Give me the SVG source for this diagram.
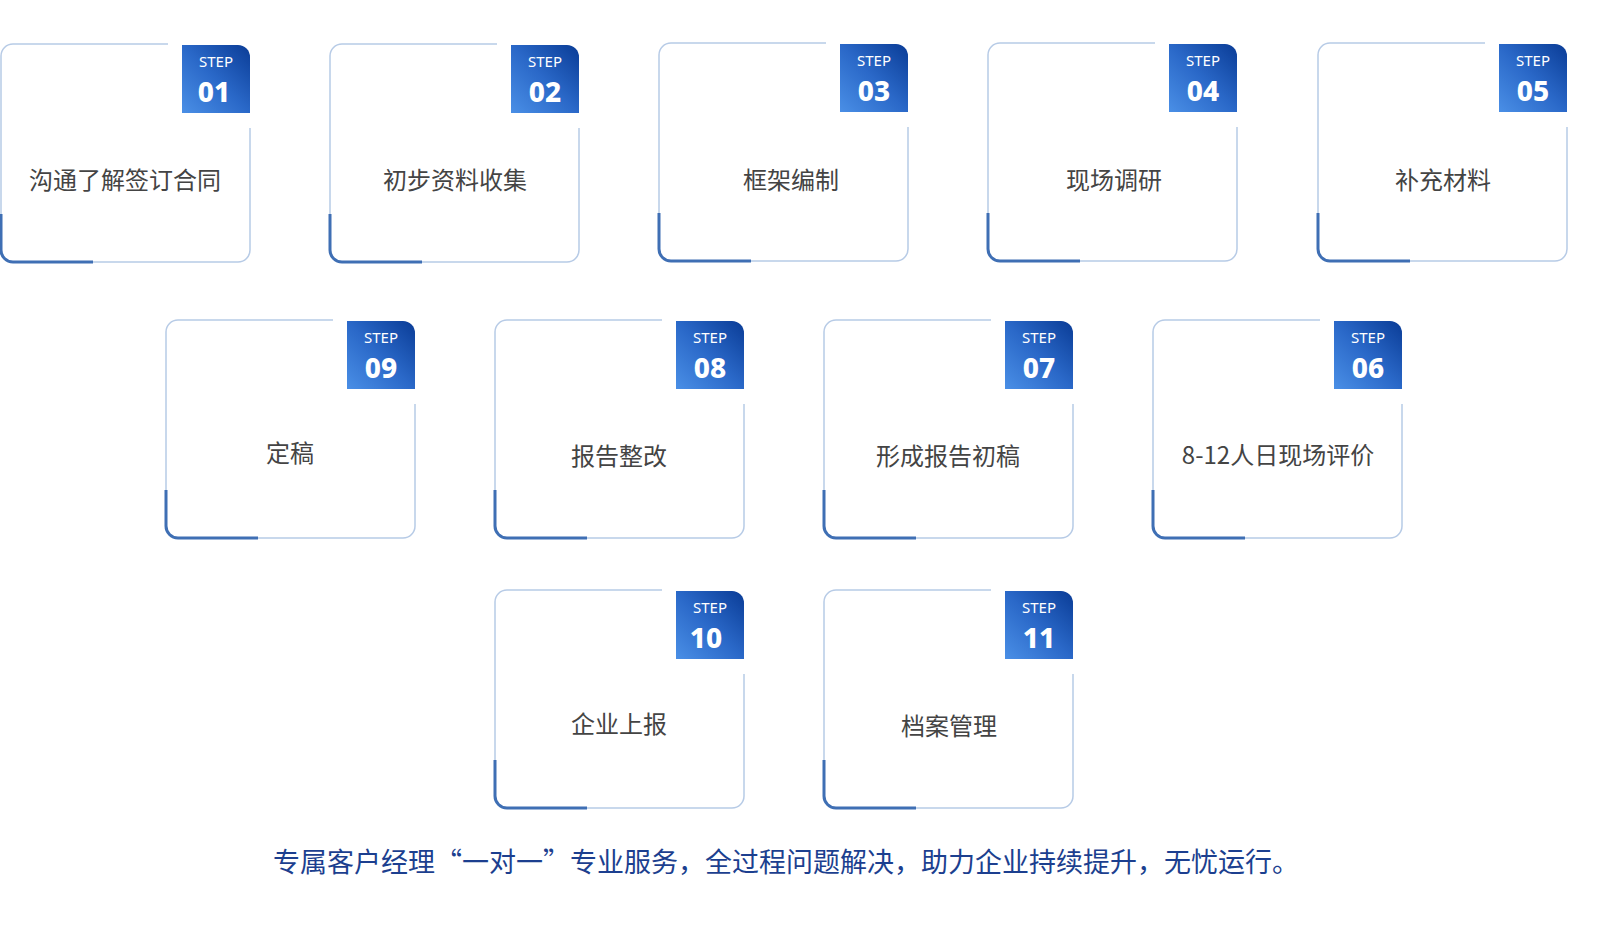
<svg xmlns="http://www.w3.org/2000/svg" xmlns:xlink="http://www.w3.org/1999/xlink" width="1600" height="940" viewBox="0 0 1600 940">
<style>
.lbl{font-family:"Noto Sans CJK SC","Noto Sans",sans-serif;font-size:24px;fill:#444;text-anchor:middle}
.st{font-family:"Noto Sans","Open Sans",sans-serif;font-size:15px;fill:#fff;text-anchor:middle}
.num{font-family:"Noto Sans","Open Sans",sans-serif;font-size:28px;font-weight:800;fill:#fff;text-anchor:middle}
.foot{font-family:"Noto Sans CJK SC",sans-serif;font-size:27px;fill:#1c3f8f;text-anchor:middle}
</style>
<defs>
<linearGradient id="bg" x1="0" y1="1" x2="1" y2="0">
<stop offset="0" stop-color="#4a8fe6"/><stop offset="0.5" stop-color="#2a68c8"/><stop offset="1" stop-color="#0a3c96"/>
</linearGradient>
<g id="card">
<path d="M167,0 H12 A12,12 0 0 0 0,12 V206 A12,12 0 0 0 12,218 H237 A12,12 0 0 0 249,206 V84" fill="#fff" stroke="#b7cbe6" stroke-width="1.5"/>
<path d="M0,170 V206 A12,12 0 0 0 12,218 H92" fill="none" stroke="#3f6fb4" stroke-width="3"/>
<path d="M181,1 H237 A12,12 0 0 1 249,13 V69 H181 Z" fill="url(#bg)"/>
</g>
</defs>
<g id="connectors"></g>
<g id="n1" transform="translate(1,44)"><use xlink:href="#card"/><text class="st" x="215" y="23">STEP</text><text class="num" x="213" y="58">01</text><text class="lbl" x="124" y="145">沟通了解签订合同</text></g>
<g id="n2" transform="translate(330,44)"><use xlink:href="#card"/><text class="st" x="215" y="23">STEP</text><text class="num" x="215" y="58">02</text><text class="lbl" x="125" y="145">初步资料收集</text></g>
<g id="n3" transform="translate(659,43)"><use xlink:href="#card"/><text class="st" x="215" y="23">STEP</text><text class="num" x="215" y="58">03</text><text class="lbl" x="132" y="146">框架编制</text></g>
<g id="n4" transform="translate(988,43)"><use xlink:href="#card"/><text class="st" x="215" y="23">STEP</text><text class="num" x="215" y="58">04</text><text class="lbl" x="126" y="146">现场调研</text></g>
<g id="n5" transform="translate(1318,43)"><use xlink:href="#card"/><text class="st" x="215" y="23">STEP</text><text class="num" x="215" y="58">05</text><text class="lbl" x="125" y="146">补充材料</text></g>
<g id="n9" transform="translate(166,320)"><use xlink:href="#card"/><text class="st" x="215" y="23">STEP</text><text class="num" x="215" y="58">09</text><text class="lbl" x="124" y="142">定稿</text></g>
<g id="n8" transform="translate(495,320)"><use xlink:href="#card"/><text class="st" x="215" y="23">STEP</text><text class="num" x="215" y="58">08</text><text class="lbl" x="124" y="145">报告整改</text></g>
<g id="n7" transform="translate(824,320)"><use xlink:href="#card"/><text class="st" x="215" y="23">STEP</text><text class="num" x="215" y="58">07</text><text class="lbl" x="124" y="145">形成报告初稿</text></g>
<g id="n6" transform="translate(1153,320)"><use xlink:href="#card"/><text class="st" x="215" y="23">STEP</text><text class="num" x="215" y="58">06</text><text class="lbl" x="125" y="144">8-12人日现场评价</text></g>
<g id="n10" transform="translate(495,590)"><use xlink:href="#card"/><text class="st" x="215" y="23">STEP</text><text class="num" x="211" y="58">10</text><text class="lbl" x="124" y="143">企业上报</text></g>
<g id="n11" transform="translate(824,590)"><use xlink:href="#card"/><text class="st" x="215" y="23">STEP</text><text class="num" x="215" y="58">11</text><text class="lbl" x="125" y="145">档案管理</text></g>
<text class="foot" x="786" y="872">专属客户经理“一对一”专业服务，全过程问题解决，助力企业持续提升，无忧运行。</text>
</svg>
